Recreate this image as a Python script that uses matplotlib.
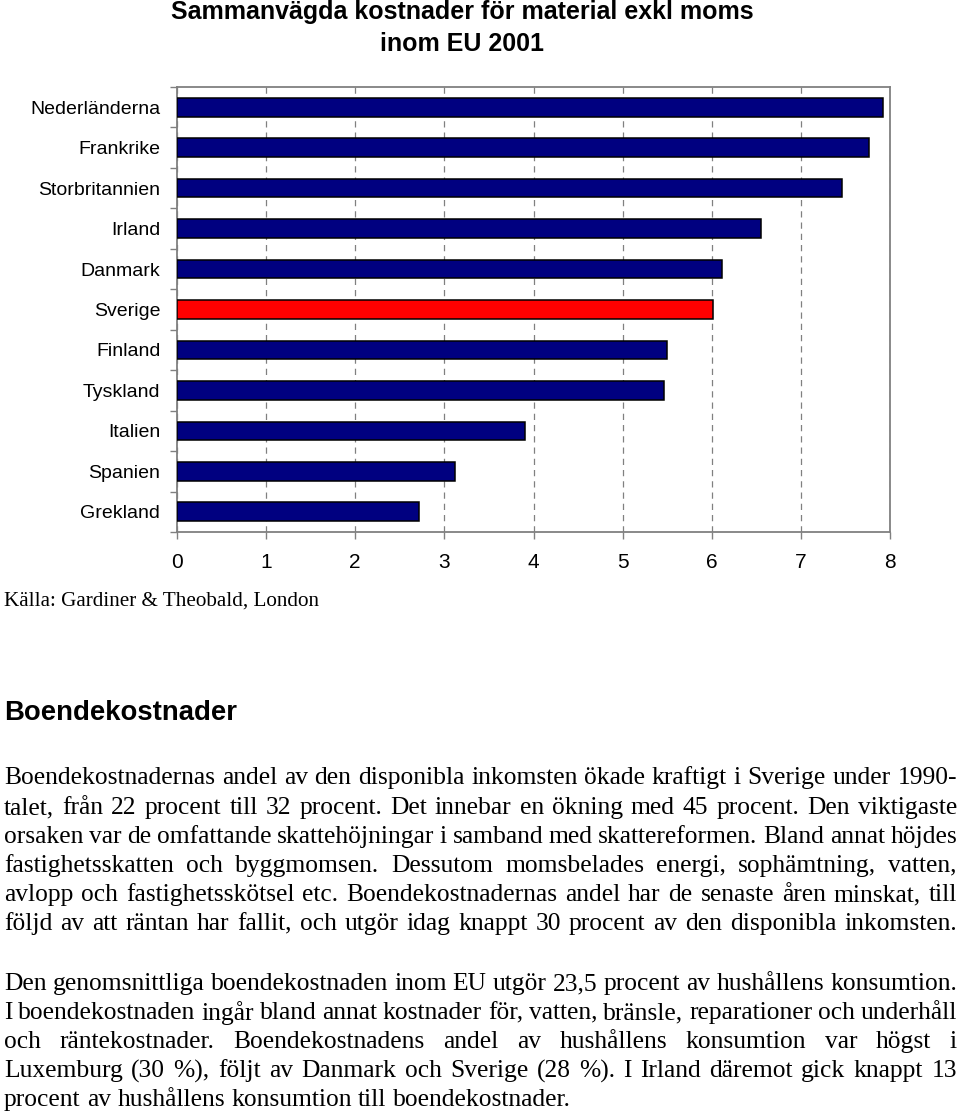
import matplotlib
matplotlib.use("Agg")
import matplotlib.pyplot as plt

# data
countries = ["Nederländerna", "Frankrike", "Storbritannien", "Irland", "Danmark",
             "Sverige", "Finland", "Tyskland", "Italien", "Spanien", "Grekland"]
values = [7.92, 7.76, 7.46, 6.55, 6.12, 6.01, 5.50, 5.46, 3.91, 3.12, 2.72]
highlight = "Sverige"
xticks = [0, 1, 2, 3, 4, 5, 6, 7, 8]

title_lines = ["Sammanvägda kostnader för material exkl moms", "inom EU 2001"]
source = "Källa: Gardiner & Theobald, London"
heading = "Boendekostnader"
# (line text, justified?)
para_lines = [
    ("Boendekostnadernas andel av den disponibla inkomsten ökade kraftigt i Sverige under 1990-", True),
    ("talet, från 22 procent till 32 procent. Det innebar en ökning med 45 procent. Den viktigaste", True),
    ("orsaken var de omfattande skattehöjningar i samband med skattereformen. Bland annat höjdes", True),
    ("fastighetsskatten och byggmomsen. Dessutom momsbelades energi, sophämtning, vatten,", True),
    ("avlopp och fastighetsskötsel etc. Boendekostnadernas andel har de senaste åren minskat, till", True),
    ("följd av att räntan har fallit, och utgör idag knappt 30 procent av den disponibla inkomsten.", True),
    (None, False),
    ("Den genomsnittliga boendekostnaden inom EU utgör 23,5 procent av hushållens konsumtion.", True),
    ("I boendekostnaden ingår bland annat kostnader för, vatten, bränsle, reparationer och underhåll", True),
    ("och räntekostnader. Boendekostnadens andel av hushållens konsumtion var högst i", True),
    ("Luxemburg (30 %), följt av Danmark och Sverige (28 %). I Irland däremot gick knappt 13", True),
    ("procent av hushållens konsumtion till boendekostnader.", False),
]

W, H = 960, 1114
fig = plt.figure(figsize=(W / 100, H / 100), dpi=100)
ax = fig.add_axes([177 / W, 1 - 532 / H, (890 - 177) / W, (532 - 87) / H])

sans = "Liberation Sans"
serif = "Liberation Serif"
gray = "#808080"

ypos = list(range(len(countries)))[::-1]
colors = ["#ff0000" if c == highlight else "#000080" for c in countries]
ax.barh(ypos, values, height=0.46, color=colors, edgecolor="black", linewidth=1.1, zorder=3)

ax.set_xlim(0, 8)
ax.set_ylim(-0.5, len(countries) - 0.5)
ax.set_xticks(xticks)
ax.set_xticklabels([str(t) for t in xticks], fontsize=15, family=sans)
ax.set_yticks(ypos)
ax.set_yticklabels(countries, fontsize=14, family=sans)
ax.tick_params(axis="y", length=0, pad=12)
ax.set_yticks([i - 0.5 for i in range(len(countries) + 1)], minor=True)
ax.tick_params(axis="y", which="minor", length=5, color=gray, width=1)
ax.tick_params(axis="x", length=5, color=gray, width=1, pad=10)
for s in ax.spines.values():
    s.set_color(gray)
    s.set_linewidth(1.3)
ax.grid(axis="x", color=gray, linestyle=(0, (5, 4)), linewidth=0.9, zorder=0)

fig.text(462 / W, 1 - 12 / H, title_lines[0], ha="center", va="center",
         fontsize=18, fontweight="bold", family=sans)
fig.text(462 / W, 1 - 44 / H, title_lines[1], ha="center", va="center",
         fontsize=18, fontweight="bold", family=sans)

fig.text(4 / W, 1 - 601 / H, source, ha="left", va="center", fontsize=15.2, family=serif)
fig.text(4 / W, 1 - 713 / H, heading, ha="left", va="center", fontsize=19.8,
         fontweight="bold", family=sans)

# justified paragraph text
renderer = fig.canvas.get_renderer()
fs = 18.4
x0, x1 = 4, 957
line_y = [778, 808, 837, 866, 895, 924, 954, 984, 1013, 1042, 1071, 1100]


def word_width(w):
    t = fig.text(0, 0, w, fontsize=fs, family=serif)
    wd = t.get_window_extent(renderer).width
    t.remove()
    return wd


space_w = word_width("a a") - word_width("aa")
for (line, just), y in zip(para_lines, line_y):
    if line is None:
        continue
    words = line.split(" ")
    widths = [word_width(w) for w in words]
    if just and len(words) > 1:
        gap = (x1 - x0 - sum(widths)) / (len(words) - 1)
    else:
        gap = space_w
    x = x0
    for w, wd in zip(words, widths):
        fig.text(x / W, 1 - y / H, w, ha="left", va="center", fontsize=fs, family=serif)
        x += wd + gap

fig.savefig("out.png", dpi=100)
